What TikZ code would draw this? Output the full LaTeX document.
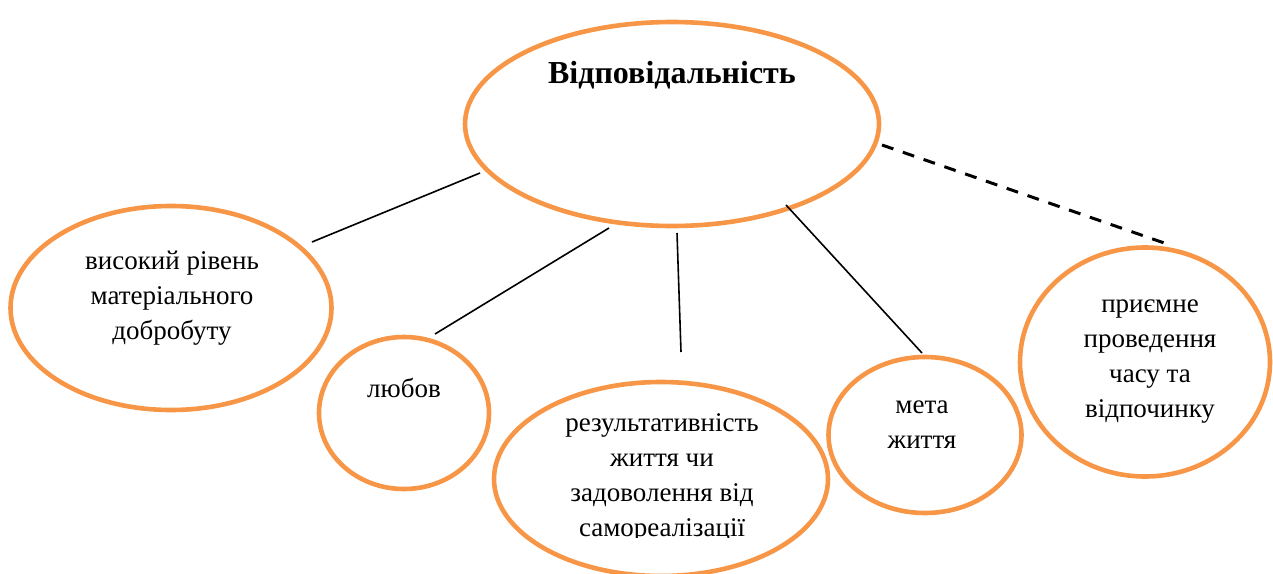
\documentclass[tikz,border=0pt]{standalone}
\usepackage{fontspec}
\setmainfont{Liberation Serif}
\usetikzlibrary{shapes.geometric}
\definecolor{accent}{HTML}{F79646}
\tikzset{
  bubble/.style={ellipse, draw=accent, line width=4.6pt, inner sep=0pt},
  lbl/.style={align=center, inner sep=0pt, font=\fontsize{27}{35}\selectfont},
  link/.style={line width=1.6pt, black},
  dlink/.style={line width=3pt, black, dash pattern=on 12pt off 10pt},
}
\begin{document}
\begin{tikzpicture}[x=1pt,y=-1pt]
\useasboundingbox (0,0) rectangle (1273,573);
% ellipses
\node[bubble, minimum width=414pt, minimum height=204pt] (main) at (672,124) {};
\node[bubble, minimum width=321pt, minimum height=204pt] (left) at (171,308) {};
\node[bubble, minimum width=170pt, minimum height=152pt] (love) at (404,413) {};
\node[bubble, minimum width=334pt, minimum height=194pt] (res) at (661,479) {};
\node[bubble, minimum width=193pt, minimum height=156pt] (goal) at (925,435) {};
\node[bubble, minimum width=250pt, minimum height=229pt] (rest) at (1145,362) {};
% texts
\node[lbl, font=\fontsize{32}{38}\selectfont\bfseries] (tmain) at (672,75) {Відповідальність};
\node[lbl] (tleft) at (172,298) {високий рівень\\матеріального\\добробуту};
\node[lbl] (tlove) at (404,388) {любов};
\begin{scope}
\clip (480,380) rectangle (840,537);
\node[lbl] (tres) at (662,478) {результативність\\життя чи\\задоволення від\\самореалізації};
\end{scope}
\node[lbl] (tgoal) at (922,425) {мета\\життя};
\node[lbl] (trest) at (1150,362) {приємне\\проведення\\часу та\\відпочинку};
% connector ends
\coordinate (m1) at (480,173);
\coordinate (l1) at (312,242);
\coordinate (m2) at (609,228);
\coordinate (v1) at (435,334);
\coordinate (m3) at (677,233);
\coordinate (r1) at (681,352);
\coordinate (m4) at (786,205);
\coordinate (g1) at (922,353);
\coordinate (m5) at (882,145);
\coordinate (p1) at (1170,245);
\draw[link] (m1) -- (l1);
\draw[link] (m2) -- (v1);
\draw[link] (m3) -- (r1);
\draw[link] (m4) -- (g1);
\draw[dlink] (m5) -- (p1);
\end{tikzpicture}
\end{document}
